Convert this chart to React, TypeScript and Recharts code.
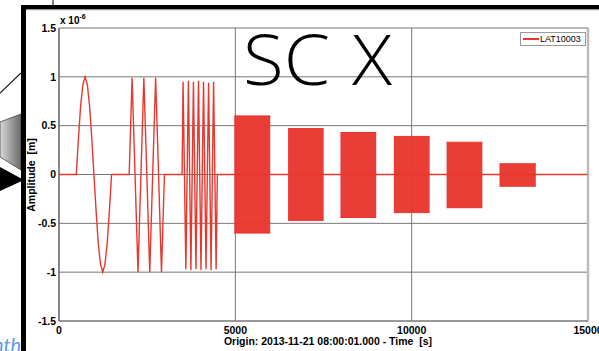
import React from 'react';
import { ComposedChart, Line, Area, XAxis, YAxis, CartesianGrid, ReferenceLine, Legend } from 'recharts';

const xTicks = [0, 5000, 10000, 15000];
const yTicks = [-1.5, -1, -0.5, 0, 0.5, 1, 1.5];

// burst 1: one cycle
const burst1T = [490, 553, 615, 678, 740, 803, 865, 928, 990, 1053, 1115, 1178, 1240, 1303, 1365, 1428, 1490];
const burst1V = [0, 0.38, 0.71, 0.92, 1.0, 0.92, 0.71, 0.38, 0, -0.38, -0.71, -0.92, -1.0, -0.92, -0.71, -0.38, 0];
// burst 2: three cycles
const burst2T = [1990, 2073, 2156, 2240, 2323, 2406, 2490, 2573, 2656, 2740, 2823, 2906, 2990];
const burst2V = [0, 0.99, 0, -1.0, 0, 0.99, 0, -1.0, 0, 0.99, 0, -1.0, 0];
// burst 3: seven cycles
const burst3T = [3490, 3518, 3597, 3669, 3740, 3812, 3883, 3955, 4026, 4098, 4169, 4241, 4312, 4384, 4455, 4490];
const burst3V = [0, 0.95, -0.97, 0.96, -0.98, 0.95, -0.97, 0.96, -0.98, 0.95, -0.97, 0.94, -0.98, 0.95, -0.97, 0];
const quietStart = 0;
const quietEnd = 14990;

// dense bursts (envelopes)
const blockStart = [4970, 6495, 7980, 9495, 10990, 12490];
const blockEnd = [5990, 7505, 8995, 10510, 12005, 13520];
const blockHigh = [0.6, 0.47, 0.43, 0.39, 0.33, 0.11];
const blockLow = [-0.6, -0.47, -0.44, -0.39, -0.34, -0.12];

const seriesName = 'LAT10003';
const xTitle = 'Origin: 2013-11-21 08:00:01.000 - Time  [s]';
const yTitle = 'Amplitude  [m]';
const bigTitleA = 'SC';
const bigTitleB = 'X';

const lineData = [
  { t: quietStart, v: 0 },
  ...burst1T.map((t, i) => ({ t, v: burst1V[i] })),
  ...burst2T.map((t, i) => ({ t, v: burst2V[i] })),
  ...burst3T.map((t, i) => ({ t, v: burst3V[i] })),
  { t: quietEnd, v: 0 },
];

const blocks = blockStart.map((s, i) => [
  { t: s, r: [blockLow[i], blockHigh[i]] },
  { t: blockEnd[i], r: [blockLow[i], blockHigh[i]] },
]);

const RED = '#e8372e';
const FONT = '"Liberation Sans", Arial, sans-serif';

const LegendBox = () => (
  <div style={{ width: 64, height: 12, border: '1px solid #999', background: '#fff', display: 'flex', alignItems: 'center', fontFamily: FONT, fontSize: 9, color: '#000', boxSizing: 'content-box' }}>
    <div style={{ width: 16, height: 1.5, background: RED, marginLeft: 2, marginRight: 1 }} />
    <span>{seriesName}</span>
  </div>
);

export default function App() {
  return (
    <div style={{ position: 'absolute', left: 0, top: 0, width: 599, height: 351, background: '#fff', overflow: 'hidden' }}>
      {/* background decorations */}
      <svg width={599} height={351} style={{ position: 'absolute', left: 0, top: 0 }}>
        <defs>
          <linearGradient id="gg" x1="0" x2="1" y1="0" y2="0">
            <stop offset="0" stopColor="#d8d8d8" />
            <stop offset="1" stopColor="#6a6a6a" />
          </linearGradient>
        </defs>
        <line x1={0} y1={93} x2={21} y2={73} stroke="#222" strokeWidth={1.2} />
        <polygon points="0,122 21,114 21,170 0,157" fill="url(#gg)" stroke="#444" strokeWidth={0.8} />
        <polygon points="0,167 24,180 0,191" fill="#000" />
        <line x1={53} y1={0} x2={53} y2={6} stroke="#000" strokeWidth={1} />
        <rect x={21} y={5} width={578} height={4} fill="#000" />
        <rect x={21} y={9} width={578} height={1.5} fill="#999" />
        <rect x={21} y={5} width={5} height={346} fill="#000" />
        <rect x={26} y={10.5} width={573} height={341} fill="#fff" />
        <text x={-7} y={352} fontFamily="Lato, sans-serif" fontStyle="italic" fontSize={20} fill="#5b9be0">nth</text>
      </svg>
      <div style={{ position: 'absolute', left: 0, top: 0 }}>
        <ComposedChart width={599} height={351} margin={{ top: 28, right: 11, bottom: 0, left: 0 }}>
          <CartesianGrid stroke="#777" strokeWidth={1} />
          <XAxis
            type="number"
            dataKey="t"
            domain={[0, 15000]}
            ticks={xTicks}
            height={30}
            tickSize={0}
            tickMargin={6}
            allowDataOverflow
            axisLine={{ stroke: '#777' }}
            tickLine={false}
            tick={{ fontFamily: FONT, fontSize: 10.5, fontWeight: 'bold', fill: '#000' }}
            interval={0}
          />
          <YAxis
            type="number"
            domain={[-1.5, 1.5]}
            ticks={yTicks}
            width={59}
            tickSize={0}
            tickMargin={3}
            allowDataOverflow
            axisLine={{ stroke: '#555' }}
            tickLine={false}
            tick={{ fontFamily: FONT, fontSize: 10.5, fontWeight: 'bold', fill: '#000' }}
            interval={0}
          />
          <ReferenceLine x={15000} stroke="#bbb" strokeWidth={2.5} />
          <Line data={lineData} dataKey="v" type="linear" stroke={RED} strokeWidth={1.4} dot={false} isAnimationActive={false} name={seriesName} />
          {blocks.map((b, i) => (
            <Area key={i} data={b} dataKey="r" type="linear" stroke={RED} strokeWidth={1} fill={RED} fillOpacity={0.97} isAnimationActive={false} legendType="none" />
          ))}
          <Legend layout="horizontal" verticalAlign="middle" align="center" content={() => <LegendBox />} wrapperStyle={{ left: 520, top: 32, width: 'auto' }} />
        </ComposedChart>
      </div>
      {/* texts */}
      <div style={{ position: 'absolute', left: 60, top: 14, fontFamily: FONT, fontSize: 10, fontWeight: 'bold', color: '#000', whiteSpace: 'nowrap' }}>
        x 10<sup style={{ fontSize: 7, position: 'relative', top: -1 }}>-6</sup>
      </div>
      <svg width={599} height={351} style={{ position: 'absolute', left: 0, top: 0, pointerEvents: 'none' }}>
        <text x={243} y={85} fontFamily='"Open Sans", sans-serif' fontWeight={300} fontSize={70} fill="#000" textLength={87} lengthAdjust="spacingAndGlyphs">{bigTitleA}</text>
        <text x={352} y={85} fontFamily='"Open Sans", sans-serif' fontWeight={300} fontSize={70} fill="#000" textLength={40} lengthAdjust="spacingAndGlyphs">{bigTitleB}</text>
      </svg>
      <div style={{ position: 'absolute', left: 328, top: 341, transform: 'translate(-50%, -50%)', fontFamily: FONT, fontSize: 10.5, fontWeight: 'bold', color: '#000', whiteSpace: 'pre' }}>
        {xTitle}
      </div>
      <div style={{ position: 'absolute', left: 31, top: 175, transform: 'translate(-50%, -50%) rotate(-90deg)', fontFamily: FONT, fontSize: 10.5, fontWeight: 'bold', color: '#000', whiteSpace: 'pre' }}>
        {yTitle}
      </div>
    </div>
  );
}
